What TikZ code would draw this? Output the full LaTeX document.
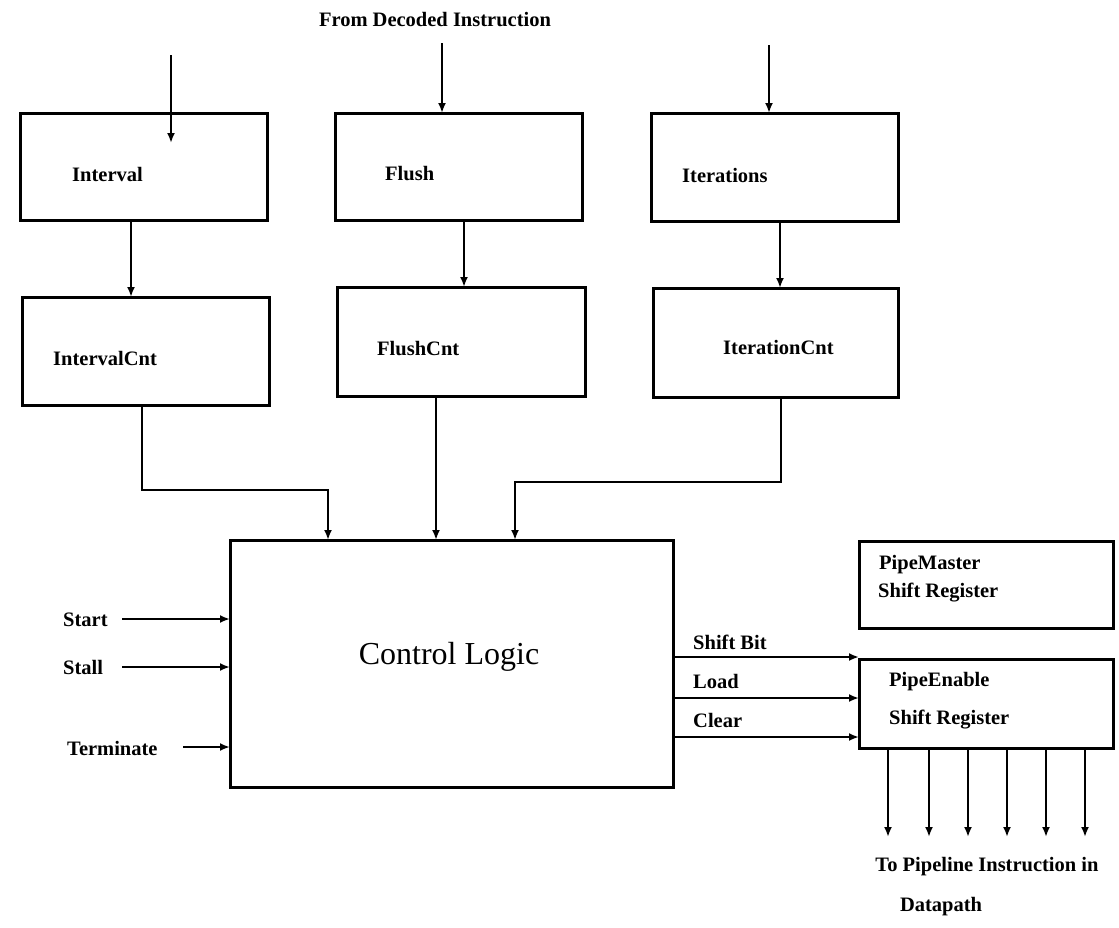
\documentclass[tikz,border=0pt]{standalone}
\usepackage{fontspec}
\setmainfont{Liberation Serif}
\usetikzlibrary{arrows.meta}
\begin{document}
\begin{tikzpicture}[x=1pt,y=-1pt,
  blk/.style={draw, line width=3pt, rectangle, inner sep=0pt, outer sep=0pt},
  lbl/.style={anchor=west, inner sep=0pt, font=\fontsize{20.5}{24}\selectfont\bfseries},
  clbl/.style={anchor=center, inner sep=0pt, font=\fontsize{20.5}{24}\selectfont\bfseries},
  arr/.style={line width=2.4pt, -{Latex[length=10pt,width=8pt]}},
  wire/.style={line width=2.4pt}]
\useasboundingbox (0,0) rectangle (1119,927);
\fill[white] (0,0) rectangle (1119,927);

% boxes
\node[blk, minimum width=247pt, minimum height=107pt] (interval) at (143.5,166.5) {};
\node[blk, minimum width=247pt, minimum height=108pt] (intervalcnt) at (145.5,351) {};
\node[blk, minimum width=247pt, minimum height=107pt] (flush) at (458.5,166.5) {};
\node[blk, minimum width=248pt, minimum height=109pt] (flushcnt) at (461,341.5) {};
\node[blk, minimum width=247pt, minimum height=108pt] (iter) at (774.5,167) {};
\node[blk, minimum width=245pt, minimum height=109pt] (itercnt) at (775.5,342.5) {};
\node[blk, minimum width=443pt, minimum height=247pt] (control) at (451.5,663.5) {};
\node[blk, minimum width=254pt, minimum height=87pt] (pipemaster) at (986,584.5) {};
\node[blk, minimum width=254pt, minimum height=89pt] (pipeenable) at (986,703.5) {};

% labels
\node[clbl] (from) at (435,20) {From Decoded Instruction};
\node[lbl] (tInterval) at (72,174) {Interval};
\node[lbl] (tIntervalCnt) at (53,358) {IntervalCnt};
\node[lbl] (tFlush) at (385,174) {Flush};
\node[lbl] (tFlushCnt) at (377,349) {FlushCnt};
\node[lbl] (tIter) at (682,175) {Iterations};
\node[lbl] (tIterCnt) at (723,347) {IterationCnt};
\node[anchor=center, inner sep=0pt, font=\fontsize{32}{36}\selectfont] (tControl) at (449,657) {Control Logic};
\node[lbl] (tStart) at (63,620) {Start};
\node[lbl] (tStall) at (63,667) {Stall};
\node[lbl] (tTerm) at (67,748) {Terminate};
\node[lbl] (tShift) at (693,642) {Shift Bit};
\node[lbl] (tLoad) at (693,681) {Load};
\node[lbl] (tClear) at (693,720) {Clear};
\node[lbl] (tPM1) at (879,565) {PipeMaster};
\node[lbl] (tPM2) at (878,593) {Shift Register};
\node[lbl] (tPE1) at (889,682) {PipeEnable};
\node[lbl] (tPE2) at (889,720) {Shift Register};
\node[clbl] (tTo) at (987,867) {To Pipeline Instruction in};
\node[clbl] (tData) at (941,907) {Datapath};

% coordinates
\coordinate (inA) at (171,55);
\coordinate (inAe) at (171,143);
\coordinate (inB) at (442,43);
\coordinate (inC) at (769,45);
\coordinate (c1) at (131,0);
\coordinate (c2) at (464,0);
\coordinate (c3) at (780,0);
\coordinate (d1) at (142,490);
\coordinate (d1b) at (328,490);
\coordinate (d2) at (436,0);
\coordinate (d3) at (781,482);
\coordinate (d3b) at (515,482);
\coordinate (sS) at (122,619);
\coordinate (sT) at (122,667);
\coordinate (sX) at (183,747);
\coordinate (oA) at (0,657);
\coordinate (oB) at (0,698);
\coordinate (oC) at (0,737);

% top inputs
\draw[arr] (inA) -- (inAe);
\draw[arr] (inB) -- (inB |- flush.north);
\draw[arr] (inC) -- (inC |- iter.north);

% box to box
\draw[arr] (interval.south -| c1) -- (intervalcnt.north -| c1);
\draw[arr] (flush.south -| c2) -- (flushcnt.north -| c2);
\draw[arr] (iter.south -| c3) -- (itercnt.north -| c3);

% counters to control
\draw[arr] (intervalcnt.south -| d1) -- (d1) -- (d1b) -- (control.north -| d1b);
\draw[arr] (flushcnt.south -| d2) -- (control.north -| d2);
\draw[arr] (itercnt.south -| d3) -- (d3) -- (d3b) -- (control.north -| d3b);

% left inputs
\draw[arr] (sS) -- (sS -| control.west);
\draw[arr] (sT) -- (sT -| control.west);
\draw[arr] (sX) -- (sX -| control.west);

% control to pipeenable
\draw[arr] (control.east |- oA) -- (pipeenable.west |- oA);
\draw[arr] (control.east |- oB) -- (pipeenable.west |- oB);
\draw[arr] (control.east |- oC) -- (pipeenable.west |- oC);

% outputs
\foreach \xx [count=\i] in {888,929,968,1007,1046,1085} {
  \coordinate (out\i) at (\xx,837);
  \draw[arr] (pipeenable.south -| out\i) -- (out\i);
}
\end{tikzpicture}
\end{document}
